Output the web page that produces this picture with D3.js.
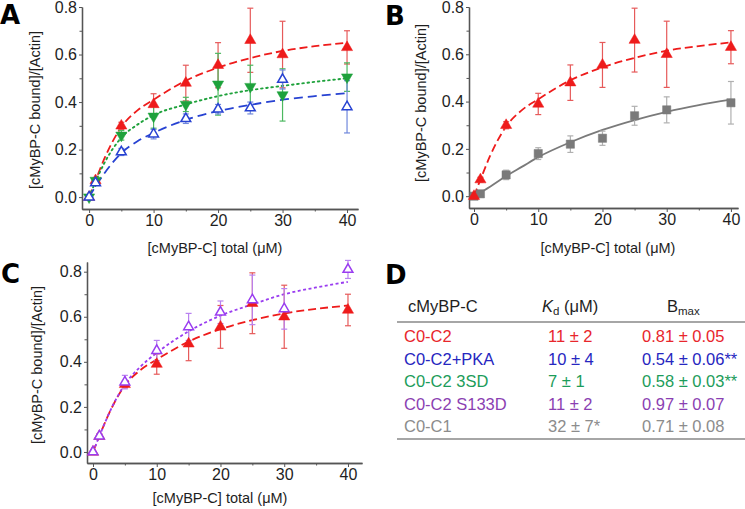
<!DOCTYPE html>
<html><head><meta charset="utf-8">
<script src="https://cdn.jsdelivr.net/npm/d3@7"></script>
<style>
body{margin:0;background:#fff;}
svg{display:block;font-family:"Liberation Sans",Arial,sans-serif;}
</style></head>
<body><svg id="c" width="745" height="509"></svg>
<script>
// ---- data ----
const conc = [0, 1, 5, 10, 15, 20, 25, 30, 40];
const c0c2 = [0, 0.07, 0.30, 0.39, 0.48, 0.555, 0.66, 0.60, 0.63];
const c0c2Err = [0, 0.01, 0.015, 0.045, 0.075, 0.095, 0.135, 0.14, 0.07];
const pka = [0, 0.06, 0.19, 0.265, 0.33, 0.37, 0.375, 0.495, 0.38];
const pkaErr = [0, 0.01, 0.015, 0.02, 0.02, 0.02, 0.025, 0.04, 0.11];
const sd3 = [0, 0.07, 0.26, 0.34, 0.39, 0.475, 0.465, 0.43, 0.505];
const sd3Err = [0, 0.01, 0.02, 0.05, 0.03, 0.13, 0.09, 0.11, 0.06];
const s133d = [0, 0.07, 0.31, 0.45, 0.555, 0.62, 0.675, 0.635, 0.81];
const s133dErr = [0, 0.01, 0.03, 0.045, 0.06, 0.05, 0.11, 0.09, 0.04];
const c0c1 = [0, 0.01, 0.09, 0.18, 0.22, 0.245, 0.34, 0.365, 0.395];
const c0c1Err = [0, 0.005, 0.02, 0.025, 0.035, 0.03, 0.04, 0.055, 0.09];

// fitted curves
const fitX = [0, 1, 2.5, 5, 7.5, 10, 15, 20, 25, 30, 35, 40];
const fitC0C2 = [0, 0.07, 0.17, 0.295, 0.365, 0.41, 0.49, 0.545, 0.585, 0.615, 0.635, 0.65];
const fitPKA = [0, 0.045, 0.105, 0.185, 0.235, 0.27, 0.325, 0.362, 0.388, 0.41, 0.425, 0.437];
const fit3SD = [0, 0.065, 0.15, 0.25, 0.305, 0.345, 0.39, 0.425, 0.45, 0.468, 0.485, 0.50];
const fitS133D = [0, 0.07, 0.17, 0.30, 0.38, 0.44, 0.535, 0.605, 0.655, 0.70, 0.73, 0.755];
const fitC0C1 = [0, 0.015, 0.04, 0.085, 0.125, 0.165, 0.228, 0.28, 0.322, 0.357, 0.385, 0.408];

const xTicks = [0, 10, 20, 30, 40];
const xMinor = [5, 15, 25, 35];
const yTicks = [0, 0.2, 0.4, 0.6, 0.8];
const yMinor = [0.1, 0.3, 0.5, 0.7];

const tableHead = ["cMyBP-C", "K", "B"];
const tableNames = ["C0-C2", "C0-C2+PKA", "C0-C2 3SD", "C0-C2 S133D", "C0-C1"];
const tableKd = ["11 ± 2", "10 ± 4", "7 ± 1", "11 ± 2", "32 ± 7*"];
const tableBmax = ["0.81 ± 0.05", "0.54 ± 0.06**", "0.58 ± 0.03**", "0.97 ± 0.07", "0.71 ± 0.08"];
const tableColors = ["#e8262c", "#2626c0", "#1c9c5a", "#8b3fb2", "#8c8c8c"];

const RED = "#ee1b1b", BLUE = "#2742d2", GREEN = "#1fa23c", PURPLE = "#9a3df0", GRAY = "#7a7a7a";
const series = {
  c0c2: {y: c0c2, e: c0c2Err, fit: fitC0C2, color: RED, ebar: "#e65a5a", shape: "up", fill: true, dash: "8,4", w: 1.8},
  pka: {y: pka, e: pkaErr, fit: fitPKA, color: BLUE, ebar: "#7088dc", shape: "up", fill: false, dash: "9,5", w: 1.8},
  sd3: {y: sd3, e: sd3Err, fit: fit3SD, color: GREEN, ebar: "#4cb860", shape: "down", fill: true, dash: "1.6,3.6", w: 1.9, round: true},
  s133d: {y: s133d, e: s133dErr, fit: fitS133D, color: PURPLE, ebar: "#b982f0", shape: "up", fill: false, dash: "3,2.5", w: 1.8},
  c0c1: {y: c0c1, e: c0c1Err, fit: fitC0C1, color: GRAY, ebar: "#b0b0b0", shape: "square", fill: true, dash: null, w: 1.8}
};

const svg = d3.select("#c");
const AX = "#555", TXT = "#1e1e1e";

function panel(cfg) {
  const g = svg.append("g");
  const x = d3.scaleLinear().domain(cfg.xd).range(cfg.xr);
  const y = d3.scaleLinear().domain(cfg.yd).range(cfg.yr);
  const x0 = cfg.xr[0], y0 = cfg.yr[0];

  g.append("g").attr("transform", `translate(0,${y0})`)
    .call(d3.axisBottom(x).tickValues(xTicks).tickFormat(d3.format("d")).tickSize(4).tickPadding(2).tickSizeOuter(0));
  g.append("g").attr("transform", `translate(0,${y0})`)
    .call(d3.axisBottom(x).tickValues(xMinor).tickFormat("").tickSize(2.5).tickSizeOuter(0));
  g.append("g").attr("transform", `translate(${x0},0)`)
    .call(d3.axisLeft(y).tickValues(yTicks).tickFormat(d3.format(".1f")).tickSize(3).tickPadding(2).tickSizeOuter(0));
  g.append("g").attr("transform", `translate(${x0},0)`)
    .call(d3.axisLeft(y).tickValues(yMinor).tickFormat("").tickSize(2.5).tickSizeOuter(0));
  g.selectAll(".domain").attr("stroke", AX).attr("stroke-width", 1.3);
  g.selectAll(".tick line").attr("stroke", AX).attr("stroke-width", 1);
  g.selectAll(".tick text").attr("fill", TXT).attr("font-size", 16)
    .attr("font-family", "'Liberation Sans',Arial,sans-serif");

  g.append("text").attr("x", cfg.xt[0]).attr("y", cfg.xt[1]).attr("text-anchor", "middle")
    .attr("font-size", 14.5).attr("fill", TXT).text("[cMyBP-C] total (μM)");
  g.append("text").attr("transform", `translate(${cfg.yt[0]},${cfg.yt[1]}) rotate(-90)`)
    .attr("text-anchor", "middle").attr("font-size", 14.5).attr("fill", TXT).text("[cMyBP-C bound]/[Actin]");
  g.append("text").attr("x", cfg.lab[0]).attr("y", cfg.lab[1]).attr("font-size", 26)
    .attr("font-weight", 900).attr("font-family", "'DejaVu Sans',Arial,sans-serif")
    .attr("fill", "#000").text(cfg.letter);

  const line = d3.line().x((d, i) => x(fitX[i])).y(d => y(d)).curve(d3.curveMonotoneX);
  cfg.series.forEach(k => {
    const s = series[k];
    g.append("path").datum(s.fit).attr("d", line).attr("fill", "none")
      .attr("stroke", s.color).attr("stroke-width", s.w)
      .attr("stroke-linecap", s.round ? "round" : "butt")
      .attr("stroke-dasharray", s.dash);
  });
  cfg.series.forEach(k => {
    const s = series[k];
    const eb = g.append("g").attr("stroke", s.ebar).attr("stroke-width", 1.2);
    conc.forEach((c, i) => {
      if (s.e[i] <= 0.006) return;
      const cx = x(c), t = y(s.y[i] + s.e[i]), b = y(s.y[i] - s.e[i]);
      eb.append("line").attr("x1", cx).attr("x2", cx).attr("y1", t).attr("y2", b);
      eb.append("line").attr("x1", cx - 3).attr("x2", cx + 3).attr("y1", t).attr("y2", t);
      eb.append("line").attr("x1", cx - 3).attr("x2", cx + 3).attr("y1", b).attr("y2", b);
    });
  });
  cfg.series.forEach(k => {
    const s = series[k];
    const type = s.shape === "square" ? d3.symbolSquare : d3.symbolTriangle;
    const size = s.shape === "square" ? 68 : (s.fill ? 54 : 42);
    const sym = d3.symbol().type(type).size(size);
    g.append("g").selectAll("path").data(conc).join("path")
      .attr("d", sym)
      .attr("transform", (c, i) => `translate(${x(c)},${y(s.y[i])})` + (s.shape === "down" ? " rotate(180)" : ""))
      .attr("fill", s.fill ? s.color : "#fff")
      .attr("stroke", s.color).attr("stroke-width", s.fill ? 0.5 : 1.5);
  });
}

panel({letter: "A", lab: [0, 24], xd: [-1.1, 41.7], xr: [82, 358], yd: [-0.05, 0.8], yr: [209, 7],
  xt: [215, 253], yt: [40, 110], series: ["c0c2", "sd3", "pka"]});
panel({letter: "B", lab: [385, 25], xd: [-0.78, 41.1], xr: [469, 738], yd: [-0.05, 0.8], yr: [208, 7],
  xt: [608, 253], yt: [426, 103], series: ["c0c1", "c0c2"]});
panel({letter: "C", lab: [1, 283], xd: [-0.94, 42.2], xr: [87, 362], yd: [-0.049, 0.843], yr: [463, 262],
  xt: [220, 503], yt: [42, 365], series: ["c0c2", "s133d"]});

// ---- table D ----
const tg = svg.append("g").attr("font-size", 16.5);
tg.append("text").attr("x", 385).attr("y", 284).attr("font-size", 26).attr("font-weight", 900)
  .attr("font-family", "'DejaVu Sans',Arial,sans-serif").text("D");
tg.append("text").attr("x", 408).attr("y", 312).attr("fill", TXT).text(tableHead[0]);
const kd = tg.append("text").attr("x", 542).attr("y", 312).attr("fill", TXT);
kd.append("tspan").attr("font-style", "italic").text(tableHead[1]);
kd.append("tspan").attr("font-size", 11.5).attr("dy", 3).text("d");
kd.append("tspan").attr("dy", -3).text(" (μM)");
const bm = tg.append("text").attr("x", 667).attr("y", 312).attr("fill", TXT);
bm.append("tspan").text(tableHead[2]);
bm.append("tspan").attr("font-size", 11.5).attr("dy", 3).text("max");
tg.append("line").attr("x1", 397).attr("x2", 745).attr("y1", 322).attr("y2", 322)
  .attr("stroke", "#888").attr("stroke-width", 1.5);
tg.append("line").attr("x1", 397).attr("x2", 745).attr("y1", 439).attr("y2", 439)
  .attr("stroke", "#888").attr("stroke-width", 1.5);
tableNames.forEach((n, i) => {
  const yy = 342 + i * 22.6;
  tg.append("text").attr("x", 404).attr("y", yy).attr("fill", tableColors[i]).text(n);
  tg.append("text").attr("x", 548).attr("y", yy).attr("fill", tableColors[i]).text(tableKd[i]);
  tg.append("text").attr("x", 642).attr("y", yy).attr("fill", tableColors[i]).text(tableBmax[i]);
});
</script></body></html>
